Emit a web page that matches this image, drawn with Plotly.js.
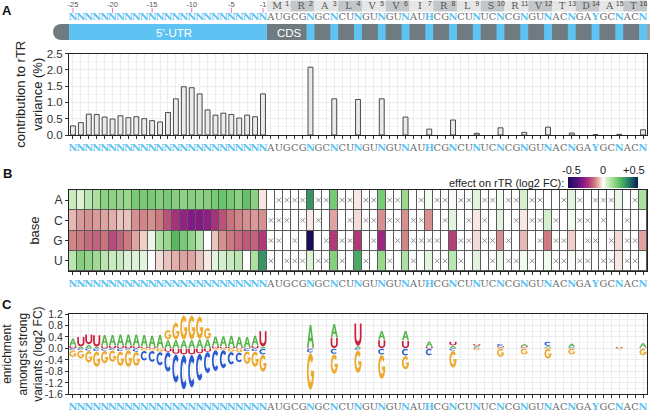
<!DOCTYPE html>
<html><head><meta charset="utf-8">
<script src="https://cdn.plot.ly/plotly-3.0.1.min.js"></script>
<style>html,body{margin:0;padding:0;background:#fff}#chart{width:652px;height:411px}</style>
</head><body><div id="chart"></div>
<script>
const _ = null;
// ---------- DATA ----------
const seqLetters = ('NNNNN'.repeat(5) + 'AUGCGNGCNCUNGUNGUNAUHCGNCUNUCNCGNGUNACNGAYGCNACN').split('');
const utrTickPos = [1, 6, 11, 16, 21, 25];
const utrTickLabels = ['-25', '-20', '-15', '-10', '-5', '-1'];
const aminoAcids = ['M','R','A','L','V','V','I','R','L','S','R','V','T','D','A','T'];
const baseNames = ['A', 'C', 'G', 'U'];

// panel A: contribution to rTR variance (%)
const contrib = [0.28,0.38,0.64,0.63,0.55,0.49,0.59,0.53,0.56,0.50,0.44,0.40,0.69,1.11,1.48,1.45,1.26,0.77,0.61,0.67,0.63,0.52,0.61,0.56,1.26,
  _,_,_,_,_,
  2.08,_,_, 1.11,_,_, 1.09,_,_, 1.11,_,_, 0.55,_,_, 0.18,_,_, 0.46,_,_, 0.05,_,_, 0.22,_,_, 0.08,_,_, 0.24,_,_, 0.06,_,_, 0.01,_,_, 0.02,_,_, 0.16];

// panel B: effect on rTR (log2 FC); null = not observed (crossed)
const effA = [0.08,0.05,0.10,0.12,0.17,0.17,0.16,0.15,0.20,0.20,0.20,0.18,0.20,0.18,0.17,0.18,0.17,0.18,0.20,0.22,0.20,0.17,0.23,0.17,-0.02,
  0,_,_,_,_, 0.32,_,_, 0.20,_,_, -0.02,_,_, 0.20,_,_, 0.15,0,_, 0.02,_,_, 0.01,_,_, 0.04,_,_, 0.02,_,_, 0.06,_,_, 0,0,_, 0.04,_,0, _,_,_, 0.03,0,_, 0.12];
const effC = [-0.06,-0.09,-0.10,-0.09,-0.08,-0.07,-0.05,-0.05,-0.10,-0.11,-0.10,-0.12,-0.17,-0.22,-0.26,-0.29,-0.29,-0.27,-0.22,-0.17,-0.13,-0.11,-0.10,-0.09,-0.10,
  _,_,_,0,_, -0.02,_,0, -0.08,0,_, -0.03,_,_, -0.10,_,_, -0.10,_,_, -0.10,0,_, 0.04,0,_, -0.02,_,0, 0.04,0,_, -0.02,_,_, 0.06,_,0, 0.02,_,_, 0,_,0, 0,_,0, 0];
const effG = [-0.11,-0.12,-0.14,-0.15,-0.13,-0.18,-0.15,-0.12,-0.08,-0.04,0.03,0.12,0.15,0.25,0.20,0.16,0.10,0.00,-0.05,-0.10,-0.12,-0.14,-0.16,-0.15,-0.20,
  _,_,0,_,0, -0.50,0,_, -0.20,_,_, -0.20,0,_, -0.25,0,_, -0.11,_,_, _,_,0, -0.19,_,_, -0.03,_,_, -0.10,_,0, -0.06,0,_, -0.12,_,_, -0.04,0,_, _,0,_, -0.03,_,_, -0.08];
const effU = [0.10,0.18,0.16,0.14,0.10,0.08,0.08,0.05,0.05,0.04,0.00,-0.03,-0.05,-0.07,-0.08,-0.08,-0.05,-0.02,0.04,0.06,0.08,0.10,0.00,0.12,0.32,
  _,0,_,_,_, 0.05,_,_, 0.18,_,0, 0.28,_,0, 0.15,_,0, 0.12,_,0, 0.04,_,_, 0.10,_,0, 0.04,0,_, 0.03,_,_, 0.02,_,0, 0.02,_,_, 0.01,_,_, 0,_,_, -0.02,_,_, 0];

// panel C: enrichment amongst strong variants (log2 FC)
const logoA = [0.28,0.06,0.14,0.05,0.40,0.38,0.42,0.40,0.42,0.42,0.40,0.45,0.30,0.30,0.30,0.30,0.32,0.32,0.35,0.38,0.40,0.38,0.38,0.35,0.06,
  _,_,_,_,_, 0.80,_,_, 0.48,_,_, 0.08,_,_, 0.32,_,_, 0.35,_,_, 0.20,_,_, 0.10,_,_, 0.05,_,_, 0.03,_,_, 0.08,_,_, 0.06,_,_, 0.12,_,_, _,_,_, 0.02,_,_, 0.15];
const logoC = [-0.06,-0.06,-0.08,-0.10,-0.08,-0.06,-0.10,-0.05,-0.12,-0.35,-0.40,-0.48,-0.70,-1.00,-1.22,-1.15,-0.95,-0.75,-0.75,-0.65,-0.45,-0.35,-0.10,-0.10,-0.22,
  _,_,_,_,_, -0.15,_,_, -0.20,_,_, -0.06,_,_, -0.22,_,_, -0.26,_,_, -0.25,_,_, -0.08,_,_, 0.04,_,_, 0.08,_,_, 0.03,_,_, 0.16,_,_, 0.03,_,_, 0,_,_, 0,_,_, 0.02];
const logoG = [-0.25,-0.30,-0.42,-0.55,-0.45,-0.42,-0.52,-0.60,-0.50,-0.08,-0.08,-0.12,0.35,0.60,0.85,0.85,0.80,0.40,-0.05,-0.05,-0.12,-0.14,-0.45,-0.55,-0.60,
  _,_,_,_,_, -1.30,_,_, -0.70,_,_, -0.80,_,_, -0.85,_,_, -0.48,_,_, _,_,_, -0.60,_,_, -0.06,_,_, -0.30,_,_, -0.22,_,_, -0.36,_,_, -0.22,_,_, _,_,_, -0.03,_,_, -0.25];
const logoU = [0.08,0.35,0.36,0.42,0.08,0.10,0.08,0.10,0.08,0.06,0.05,0.03,-0.12,-0.20,-0.22,-0.22,-0.18,-0.12,0.08,0.06,0.05,0.04,0.03,0.10,0.55,
  _,_,_,_,_, 0.03,_,_, 0.38,_,_, 0.80,_,_, 0.30,_,_, 0.27,_,_, 0.05,_,_, 0.14,_,_, 0.06,_,_, 0.05,_,_, 0.05,_,_, 0.02,_,_, 0.02,_,_, 0,_,_, 0.03,_,_, 0.02];

// ---------- STYLE ----------
const W = 652, H = 411;
const fx = p => p / W, fy = p => 1 - p / H;
const blue = '#5ec3f2', grayTxt = '#6a6a6a', slate = '#6f7b80';
const seqFont = 'DejaVu Serif, serif';
const positions = seqLetters.map((c, i) => i + 1);
const isVar = c => (c === 'N' || c === 'H' || c === 'Y');
const tickText = seqLetters.map(c => isVar(c) ? `<span style="color:${blue}"><b>${c}</b></span>` : `<span style="color:${grayTxt}">${c}</span>`);
const xDomain = [fx(69), fx(647)];

function xAx(anchor, grid) {
  return {domain: xDomain, range: [0.5, 73.5], anchor: anchor, tickmode: 'array', tickvals: positions, ticktext: tickText,
    tickangle: 0, ticks: 'outside', ticklen: 3, tickwidth: 1, tickcolor: '#333', showline: true, linecolor: '#222', linewidth: 1,
    mirror: true, zeroline: false, showgrid: grid, gridcolor: '#ececec', gridwidth: 1, tickfont: {family: seqFont, size: 9.8}, fixedrange: true};
}

const traces = [];
traces.push({type: 'bar', x: positions, y: contrib, xaxis: 'x', yaxis: 'y', width: 0.62,
  marker: {color: '#e8eaec', line: {color: '#4a4a4a', width: 1}}, hoverinfo: 'skip'});

const effRows = [effA, effC, effG, effU];
const colorscale = [[0, '#1b0a5c'], [0.12, '#4a0f7a'], [0.22, '#8c1a87'], [0.3, '#b03a78'], [0.38, '#cf7a7e'], [0.45, '#ebc3bd'],
  [0.5, '#ffffff'], [0.56, '#d4efcc'], [0.65, '#98d98c'], [0.74, '#5cbf63'], [0.84, '#2e8b66'], [0.93, '#164d62'], [1, '#0a1f55']];
traces.push({type: 'heatmap', x: positions, y: [0, 1, 2, 3], z: effRows.map(r => r.map(v => v === null ? 0 : v)),
  xaxis: 'x2', yaxis: 'y2', zmin: -0.5, zmax: 0.5, colorscale: colorscale, xgap: 1, ygap: 1, hoverinfo: 'skip',
  colorbar: {orientation: 'h', x: fx(603), xanchor: 'center', y: fy(176.5), yanchor: 'top', len: 70, lenmode: 'pixels',
    thickness: 11, thicknessmode: 'pixels', showticklabels: false, ticks: '', outlinewidth: 0, xpad: 0, ypad: 0}});
const crossX = [], crossY = [];
effRows.forEach((r, ri) => r.forEach((v, i) => { if (v === null) { crossX.push(i + 1); crossY.push(ri); } }));
traces.push({type: 'scatter', mode: 'markers', x: crossX, y: crossY, xaxis: 'x2', yaxis: 'y2', hoverinfo: 'skip',
  marker: {symbol: 'x-thin', size: 4.5, line: {color: '#8f8f8f', width: 1}}});

traces.push({type: 'scatter', mode: 'markers', x: [], y: [], xaxis: 'x3', yaxis: 'y3'});

traces.push({type: 'scatter', mode: 'text', x: positions, y: seqLetters.map(() => 18), xaxis: 'x4', yaxis: 'y4',
  text: seqLetters.map(c => isVar(c) ? `<b>${c}</b>` : c), cliponaxis: false, hoverinfo: 'skip',
  textfont: {family: seqFont, size: 9.8, color: seqLetters.map(c => isVar(c) ? blue : grayTxt)}});
traces.push({type: 'scatter', mode: 'text+markers', x: utrTickPos, y: utrTickPos.map(() => 5), xaxis: 'x4', yaxis: 'y4',
  text: utrTickLabels, textposition: 'middle center', cliponaxis: false, hoverinfo: 'skip',
  textfont: {size: 7.5, color: '#555'}, marker: {size: 0.1, color: 'rgba(0,0,0,0)'}});
traces.push({type: 'scatter', mode: 'markers', x: utrTickPos, y: utrTickPos.map(() => 10.5), xaxis: 'x4', yaxis: 'y4',
  hoverinfo: 'skip', cliponaxis: false, marker: {symbol: 'line-ns-open', size: 3.5, line: {color: '#555', width: 1}}});
const aaMid = aminoAcids.map((a, k) => 27 + 3 * k);
traces.push({type: 'scatter', mode: 'text', x: aaMid.map(v => v - 0.2), y: aaMid.map(() => 6.5), xaxis: 'x4', yaxis: 'y4',
  text: aminoAcids, cliponaxis: false, hoverinfo: 'skip', textfont: {family: seqFont, size: 9.5, color: '#555'}});
traces.push({type: 'scatter', mode: 'text', x: aaMid.map(v => v + 1.05), y: aaMid.map(() => 4.2), xaxis: 'x4', yaxis: 'y4',
  text: aminoAcids.map((a, k) => String(k + 1)), cliponaxis: false, hoverinfo: 'skip', textfont: {size: 7, color: '#444'}});

const shapes = [];
shapes.push({type: 'rect', xref: 'x2', yref: 'y2', x0: 0.5, x1: 73.5, y0: -0.5, y1: 3.5, fillcolor: '#5a5a5a', line: {width: 0}, layer: 'below'});
aminoAcids.forEach((a, k) => shapes.push({type: 'rect', xref: 'x4', yref: 'y4', x0: 25.5 + 3 * k, x1: 28.5 + 3 * k, y0: 0.5, y1: 11.5,
  fillcolor: k % 2 === 0 ? '#e6e6e6' : '#c3c6c8', line: {width: 0}, layer: 'below'}));
shapes.push({type: 'circle', xref: 'paper', yref: 'paper', x0: fx(53), x1: fx(69), y0: fy(40), y1: fy(24), fillcolor: slate, line: {width: 0}});
shapes.push({type: 'rect', xref: 'paper', yref: 'paper', x0: fx(61), x1: fx(70), y0: fy(40), y1: fy(24), fillcolor: slate, line: {width: 0}});
shapes.push({type: 'rect', xref: 'paper', yref: 'paper', x0: fx(646), x1: fx(650), y0: fy(40), y1: fy(24), fillcolor: '#9aa3a6', line: {width: 0}});
shapes.push({type: 'rect', xref: 'x4', yref: 'y4', x0: 0.5, x1: 25.5, y0: 24, y1: 40, fillcolor: blue, line: {width: 0}});
shapes.push({type: 'rect', xref: 'x4', yref: 'y4', x0: 25.5, x1: 73.5, y0: 24, y1: 40, fillcolor: slate, line: {width: 0}});
seqLetters.forEach((c, i) => { if (i >= 25 && isVar(c)) shapes.push({type: 'rect', xref: 'x4', yref: 'y4', x0: i + 0.5, x1: i + 1.5, y0: 24, y1: 40, fillcolor: blue, line: {width: 0}}); });

function ell(cx, cy, rx, ry, a0, a1, n) { const p = []; for (let k = 0; k <= n; k++) { const a = (a0 + (a1 - a0) * k / n) * Math.PI / 180; p.push([cx + rx * Math.cos(a), cy + ry * Math.sin(a)]); } return p; }
const GLYPHS = {
  A: [[[0, 0], [0.24, 0], [0.33, 0.27], [0.67, 0.27], [0.76, 0], [1, 0], [0.62, 1], [0.38, 1]], [[0.39, 0.43], [0.5, 0.77], [0.61, 0.43]]],
  C: [ell(.5, .5, .5, .5, 42, 318, 28).concat(ell(.5, .5, .26, .3, 318, 42, 28))],
  G: [ell(.5, .5, .5, .5, 42, 360, 30).concat(ell(.5, .5, .26, .3, 360, 42, 30)), [[0.56, 0.36], [1, 0.36], [1, 0.52], [0.56, 0.52]]],
  U: [[[0, 1], [0, 0.42]].concat(ell(.5, .42, .5, .42, 180, 360, 20)).concat([[1, 1], [0.76, 1], [0.76, 0.42]]).concat(ell(.5, .42, .26, .22, 360, 180, 20)).concat([[0.24, 1]])]
};
const logoColors = {A: '#55b448', C: '#2a5cd0', G: '#eca92b', U: '#c8203e'};
const logoData = {A: logoA, C: logoC, G: logoG, U: logoU};
function glyphPath(b, xc, y0, y1) {
  const w = 0.9;
  return GLYPHS[b].map(poly => 'M' + poly.map(p => (xc - w / 2 + p[0] * w).toFixed(4) + ',' + (y0 + p[1] * (y1 - y0)).toFixed(4)).join('L') + 'Z').join('');
}
positions.forEach((pos, i) => {
  const vals = baseNames.map(b => ({b: b, v: logoData[b][i]})).filter(o => o.v !== null && o.v !== 0);
  const pos_ = vals.filter(o => o.v > 0).sort((a, b) => a.v - b.v);
  const neg_ = vals.filter(o => o.v < 0).sort((a, b) => b.v - a.v);
  let base = 0;
  pos_.forEach(o => { const pad = Math.min(0.012, o.v * 0.06); shapes.push({type: 'path', xref: 'x3', yref: 'y3', path: glyphPath(o.b, pos, base + pad, base + o.v - pad), fillcolor: logoColors[o.b], fillrule: 'nonzero', line: {width: 0}}); base += o.v; });
  base = 0;
  neg_.forEach(o => { const pad = Math.min(0.012, -o.v * 0.06); shapes.push({type: 'path', xref: 'x3', yref: 'y3', path: glyphPath(o.b, pos, base + o.v + pad, base - pad), fillcolor: logoColors[o.b], fillrule: 'nonzero', line: {width: 0}}); base += o.v; });
});

const ann = [];
[['A', 7, 11], ['B', 7, 173], ['C', 7, 304]].forEach(a => ann.push({text: '<b>' + a[0] + '</b>', xref: 'paper', yref: 'paper', x: fx(a[1]), y: fy(a[2]), showarrow: false, font: {size: 13, color: '#111'}, xanchor: 'center', yanchor: 'middle'}));
[['-0.5', 571], ['0', 603], ['+0.5', 634]].forEach(a => ann.push({text: a[0], xref: 'paper', yref: 'paper', x: fx(a[1]), y: fy(170), showarrow: false, font: {size: 11, color: '#222'}, xanchor: 'center', yanchor: 'middle'}));
ann.push({text: 'effect on rTR (log2 FC):', xref: 'paper', yref: 'paper', x: fx(566), y: fy(183), xanchor: 'right', yanchor: 'middle', showarrow: false, font: {size: 11, color: '#222'}});
ann.push({text: "5'-UTR", xref: 'x4', yref: 'y4', x: 13.8, y: 32.5, showarrow: false, font: {size: 11.5, color: '#fff'}});
ann.push({text: 'CDS', xref: 'x4', yref: 'y4', x: 28.3, y: 32.5, showarrow: false, font: {size: 11.5, color: '#fff'}});

const yCommon = {ticks: 'outside', ticklen: 3, tickcolor: '#333', showline: true, linecolor: '#222', linewidth: 1, mirror: true, zeroline: false, tickfont: {size: 11.5, color: '#333'}, fixedrange: true};

const layout = {
  width: W, height: H, margin: {l: 0, r: 0, t: 0, b: 0}, showlegend: false,
  paper_bgcolor: '#fff', plot_bgcolor: '#fff',
  font: {family: 'Liberation Sans, Arial, sans-serif', size: 11, color: '#222'},
  xaxis: xAx('y', true), xaxis2: xAx('y2', false), xaxis3: xAx('y3', true),
  xaxis4: {domain: xDomain, range: [0.5, 73.5], anchor: 'y4', visible: false, fixedrange: true},
  yaxis: Object.assign({}, yCommon, {domain: [fy(135), fy(53.5)], anchor: 'x', range: [0, 2.5], tickvals: [0, 0.5, 1, 1.5, 2, 2.5],
    ticktext: ['0.0', '0.5', '1.0', '1.5', '2.0', '2.5'], showgrid: true, gridcolor: '#eeeeee',
    minor: {dtick: 0.25, tick0: 0, showgrid: true, gridcolor: '#f3f3f3', ticks: ''},
    title: {text: 'contribution to rTR<br>variance (%)', font: {size: 13, color: '#222'}, standoff: 1}}),
  yaxis2: Object.assign({}, yCommon, {domain: [fy(271), fy(190)], anchor: 'x2', range: [3.5, -0.5], tickvals: [0, 1, 2, 3], ticktext: baseNames,
    tickfont: {size: 12, color: '#333'}, showgrid: false, title: {text: 'base', font: {size: 13, color: '#222'}, standoff: 10}}),
  yaxis3: Object.assign({}, yCommon, {domain: [fy(394.3), fy(314)], anchor: 'x3', range: [-1.6, 1.2],
    tickvals: [-1.6, -1.2, -0.8, -0.4, 0, 0.4, 0.8, 1.2], ticktext: ['-1.6', '-1.2', '-0.8', '-0.4', '0.0', '0.4', '0.8', '1.2'],
    tickfont: {size: 10.5, color: '#333'},
    showgrid: true, gridcolor: '#ececec', minor: {dtick: 0.2, tick0: 0, showgrid: true, gridcolor: '#f3f3f3', ticks: ''},
    title: {text: 'enrichment<br>amongst strong<br>variants (log2 FC)', font: {size: 12, color: '#222'}, standoff: 16}}),
  yaxis4: {domain: [fy(44), 1], anchor: 'x4', range: [44, 0], visible: false, fixedrange: true},
  shapes: shapes, annotations: ann
};
Plotly.newPlot('chart', traces, layout, {staticPlot: true, displayModeBar: false});
</script></body></html>
